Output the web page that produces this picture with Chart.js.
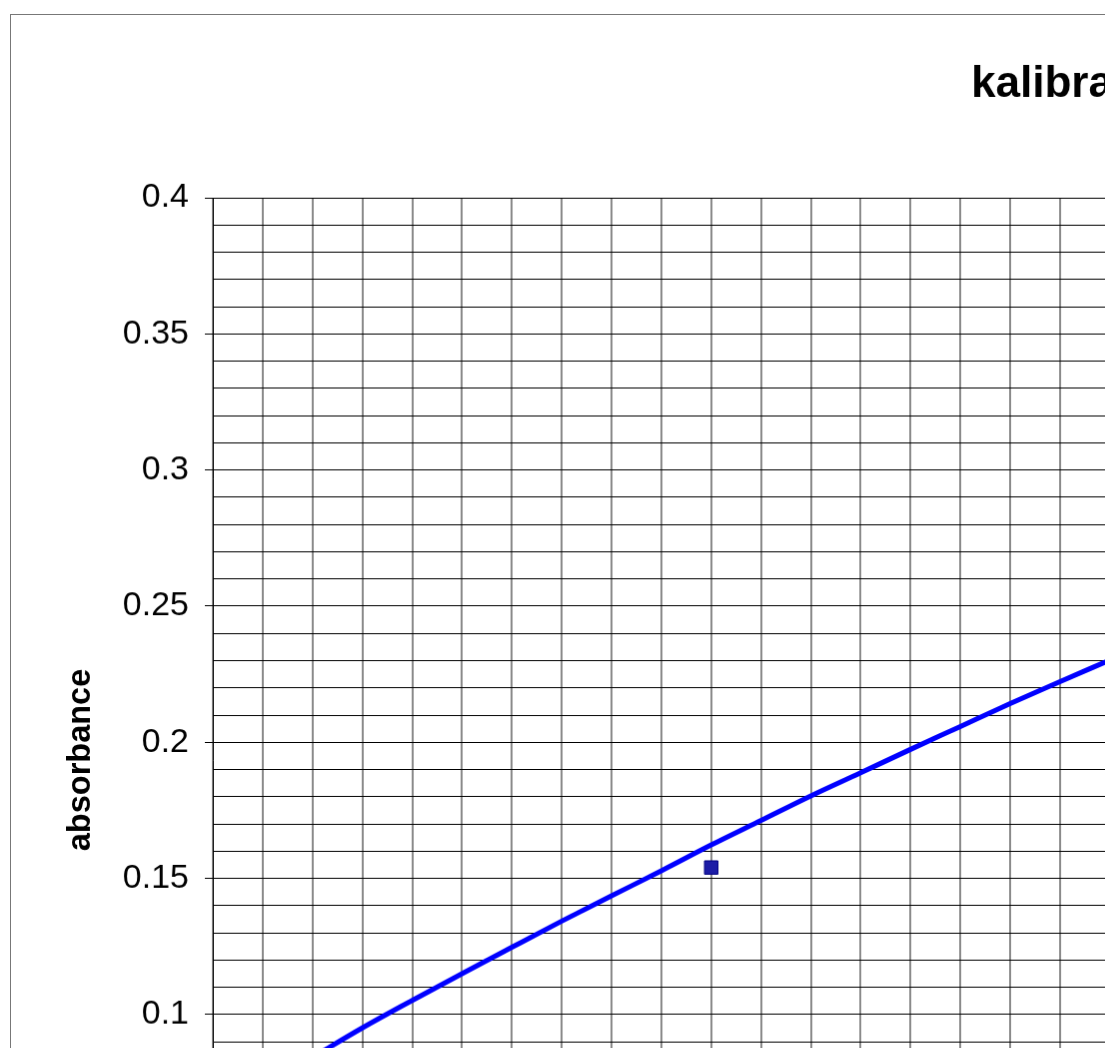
<!DOCTYPE html>
<html>
<head>
<meta charset="utf-8">
<script src="https://cdn.jsdelivr.net/npm/chart.js@4.4.1/dist/chart.umd.min.js"></script>
<style>
  html, body { margin: 0; padding: 0; background: #fff; overflow: hidden; }
  #clip { position: absolute; left: 0; top: 0; width: 1105px; height: 1048px; overflow: hidden; background: #fff; }
  #myChart { position: absolute; left: 10px; top: 14px; border: 1px solid #777; }
</style>
</head>
<body>
<div id="clip">
  <canvas id="myChart" width="2267" height="1439"></canvas>
</div>
<script>
// measured point
const measuredX = [10];
const measuredY = [0.154];

// trend line
const trendX = [2, 3, 4, 5, 6, 7, 8, 9, 10, 11, 12, 13, 14, 15, 16, 17, 18];
const trendY = [0.0843, 0.0951, 0.1052, 0.1150, 0.1247, 0.1343, 0.1436, 0.1528, 0.1623,
                0.1713, 0.1803, 0.1888, 0.1974, 0.2058, 0.2142, 0.2223, 0.2302];

// y ticks: every 0.01, labelled every 0.05
const yTickLabels = ['0', '0.05', '0.1', '0.15', '0.2', '0.25', '0.3', '0.35', '0.4'];

const FONT = 'Arial, "Liberation Sans", sans-serif';

const yTicks = [];
for (let i = 0; i <= 40; i++) yTicks.push(i / 100);

function isMajor(v) {
	return Math.abs(v * 20 - Math.round(v * 20)) < 1e-6;
}

new Chart('myChart', {
	type: 'scatter',
	data: {
		datasets: [{
			type: 'line',
			label: 'trend',
			data: trendX.map((x, i) => ({x: x, y: trendY[i]})),
			borderColor: '#0000ff',
			borderWidth: 5,
			pointRadius: 0,
			cubicInterpolationMode: 'monotone',
			order: 2
		}, {
			label: 'absorbance',
			data: measuredX.map((x, i) => ({x: x, y: measuredY[i]})),
			pointStyle: 'rect',
			pointRadius: 9.5,
			backgroundColor: '#1c1ca6',
			borderColor: '#000080',
			borderWidth: 1,
			order: 1
		}]
	},
	options: {
		responsive: false,
		animation: false,
		devicePixelRatio: 1,
		layout: {padding: {left: 20, right: 20, top: 0, bottom: 10}},
		plugins: {
			legend: {display: false},
			tooltip: {enabled: false},
			title: {
				display: true,
				text: 'kalibrační křivka',
				color: '#000',
				font: {family: FONT, size: 44, weight: 'bold'},
				padding: {top: 43.6, bottom: 86.6}
			}
		},
		scales: {
			x: {
				type: 'linear',
				min: 0,
				max: 41,
				afterFit: (s) => { s.height = 120; },
				ticks: {
					stepSize: 1,
					autoSkip: false,
					maxRotation: 0,
					color: '#000',
					font: {family: FONT, size: 34},
					callback: (v) => (v % 5 === 0 && v < 41) ? String(v) : ''
				},
				grid: {
					color: '#8a8a8a',
					lineWidth: 2,
					tickLength: 8,
					tickColor: (ctx) => (ctx.tick && ctx.tick.value % 5 === 0) ? '#000' : 'transparent'
				},
				border: {display: true, color: '#000', width: 1}
			},
			y: {
				type: 'linear',
				min: -0.013,
				max: 0.4,
				afterFit: (s) => { s.width = 182; },
				afterBuildTicks: (s) => { s.ticks = yTicks.map(v => ({value: v})); },
				ticks: {
					autoSkip: false,
					padding: 16,
					color: '#000',
					font: {family: FONT, size: 34},
					callback: (v) => isMajor(v) ? yTickLabels[Math.round(v * 20)] : ''
				},
				grid: {
					color: '#000',
					lineWidth: 1,
					tickLength: 8,
					tickColor: (ctx) => (ctx.tick && isMajor(ctx.tick.value)) ? '#000' : 'transparent'
				},
				border: {display: true, color: '#000', width: 1},
				title: {
					display: true,
					text: 'absorbance',
					color: '#000',
					font: {family: FONT, size: 32.5, weight: 'bold'},
					padding: {top: 31, bottom: 0}
				}
			}
		}
	}
});
</script>
</body>
</html>
